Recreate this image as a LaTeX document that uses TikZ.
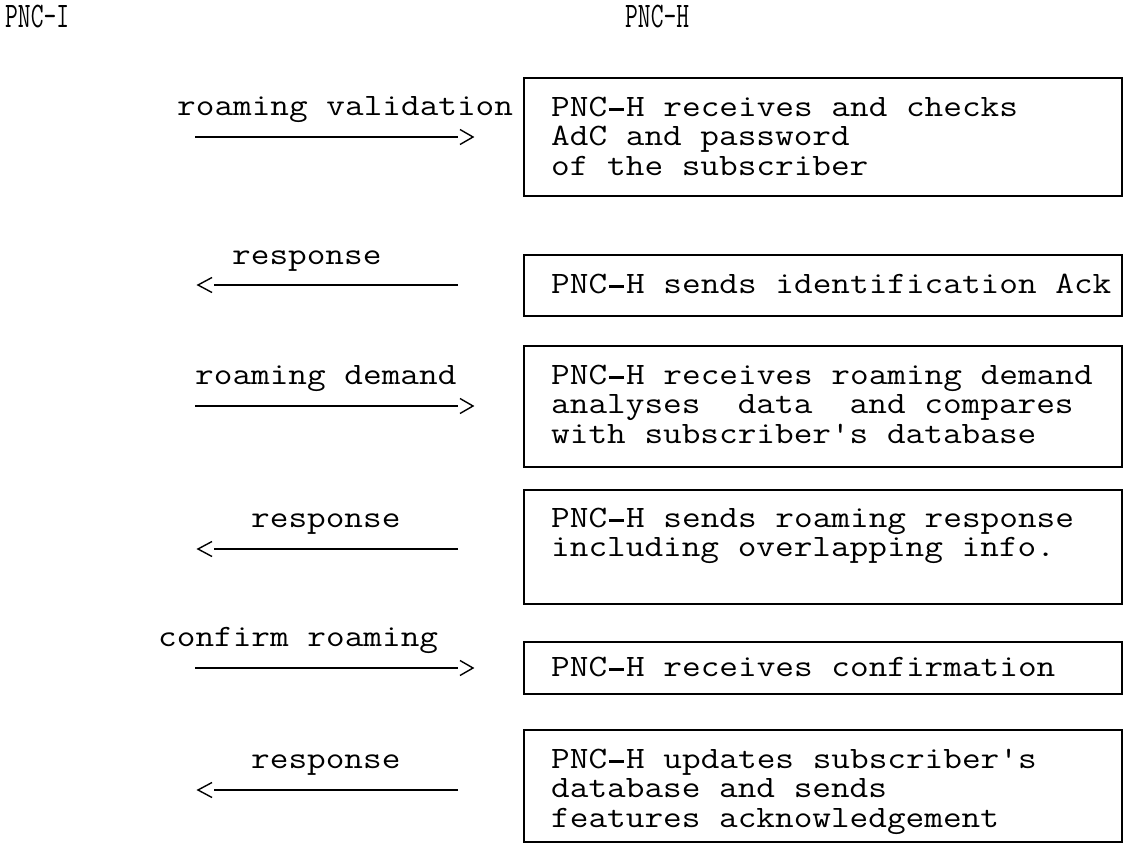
\documentclass[tikz,border=0pt]{standalone}
\usepackage{fontspec}
\usepackage{graphicx}
\newfontfamily\cour[FakeStretch=1.165]{Latin Modern Mono}
\newfontfamily\hdrfont{Latin Modern Mono}
\newcommand\pncdash{\makebox[19pt][c]{\rule[5.5pt]{15pt}{2.8pt}}}
\begin{document}
\begin{tikzpicture}[x=1pt,y=-1pt,
  txt/.style={font=\cour\fontsize{31.1}{29.5}\selectfont, inner sep=0pt, anchor=base west},
  hdr/.style={font=\hdrfont\fontsize{36}{36}\selectfont, inner sep=0pt, anchor=base west},
  msgbox/.style={draw, line width=2.4pt, inner sep=0pt, anchor=north west, minimum width=598pt},
  msg/.style={line width=2.6pt},
  chev/.style={line width=1.4pt, line join=miter}]
\useasboundingbox[fill=white] (0,0) rectangle (1125,843);

% headers
\node[hdr] (pnci) at (5,28) {\scalebox{0.69}[1]{PNC-I}};
\node[hdr] (pnch) at (625,28) {\scalebox{0.69}[1]{PNC-H}};

% boxes
\node[msgbox, minimum height=118pt] (b1) at (523,77) {};
\node[msgbox, minimum height=61pt]  (b2) at (523,254) {};
\node[msgbox, minimum height=121pt] (b3) at (523,345) {};
\node[msgbox, minimum height=114pt] (b4) at (523,489) {};
\node[msgbox, minimum height=52pt]  (b5) at (523,641) {};
\node[msgbox, minimum height=112pt] (b6) at (523,729) {};

% box texts
\node[txt] (b1a) at (551,116)   {PNC\pncdash H receives and checks};
\node[txt] (b1b) at (551,145.5) {AdC and password};
\node[txt] (b1c) at (551,175)   {of the subscriber};

\node[txt] (b2a) at (551,293)   {PNC\pncdash H sends identification Ack};

\node[txt] (b3a) at (551,384)   {PNC\pncdash H receives roaming demand};
\node[txt] (b3b) at (551,413.5) {analyses\ \ data\ \ and compares};
\node[txt] (b3c) at (551,443)   {with subscriber's database};

\node[txt] (b4a) at (551,527)   {PNC\pncdash H sends roaming response};
\node[txt] (b4b) at (551,556.5) {including overlapping info.};

\node[txt] (b5a) at (551,676)   {PNC\pncdash H receives confirmation};

\node[txt] (b6a) at (551,768)   {PNC\pncdash H updates subscriber's};
\node[txt] (b6b) at (551,797.5) {database and sends};
\node[txt] (b6c) at (551,827)   {features acknowledgement};

% labels
\node[txt] (l1) at (177,115) {roaming validation};
\node[txt] (l2) at (232,264) {response};
\node[txt] (l3) at (195,384) {roaming demand};
\node[txt] (l4) at (251,527) {response};
\node[txt] (l5) at (158,646) {confirm roaming};
\node[txt] (l6) at (251,768) {response};

% arrow end points
\coordinate (a1s) at (195,137); \coordinate (a1e) at (458,137);
\coordinate (a2s) at (458,285); \coordinate (a2e) at (214,285);
\coordinate (a3s) at (195,406); \coordinate (a3e) at (458,406);
\coordinate (a4s) at (458,549); \coordinate (a4e) at (214,549);
\coordinate (a5s) at (195,668); \coordinate (a5e) at (458,668);
\coordinate (a6s) at (458,790); \coordinate (a6e) at (214,790);

% rightward arrows
\draw[msg] (a1s) -- (a1e);
\draw[chev] (a1e) ++(2,-7.5) -- ++(13,7.5) -- ++(-13,7.5);
\draw[msg] (a3s) -- (a3e);
\draw[chev] (a3e) ++(2,-7.5) -- ++(13,7.5) -- ++(-13,7.5);
\draw[msg] (a5s) -- (a5e);
\draw[chev] (a5e) ++(2,-7.5) -- ++(13,7.5) -- ++(-13,7.5);

% leftward arrows
\draw[msg] (a2s) -- (a2e);
\draw[chev] (a2e) ++(-2,-7.5) -- ++(-14,7.5) -- ++(14,7.5);
\draw[msg] (a4s) -- (a4e);
\draw[chev] (a4e) ++(-2,-7.5) -- ++(-14,7.5) -- ++(14,7.5);
\draw[msg] (a6s) -- (a6e);
\draw[chev] (a6e) ++(-2,-7.5) -- ++(-14,7.5) -- ++(14,7.5);
\end{tikzpicture}
\end{document}
